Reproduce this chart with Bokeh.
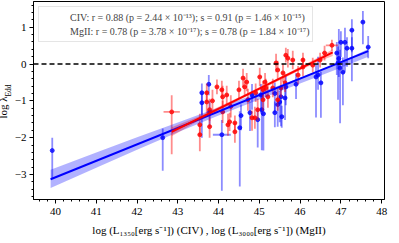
import numpy as np
from bokeh.plotting import figure
from bokeh.models import (Range1d, SingleIntervalTicker, Legend, LegendItem, Title,
                          ColumnDataSource, Span)
from bokeh.embed import file_html
from bokeh.resources import INLINE

# ---------------- data ----------------
civ_x = [39.92, 42.63, 43.59, 43.59, 43.76, 43.78, 44.08, 44.52, 44.55, 44.77,
         44.82, 44.96, 45.04, 45.06, 45.10, 45.38, 45.38, 45.45, 45.50, 45.53,
         45.55, 45.63, 45.65, 45.90, 46.39, 46.44, 46.51, 46.90, 46.93, 46.98,
         47.05, 47.00, 47.10, 47.15, 47.27, 47.27, 47.54, 47.67, 46.95]
civ_y = [-2.35, -2.00, -0.78, -1.05, -0.55, -1.30, -1.92, -1.73, -1.40, -1.32,
         -0.84, -1.51, -0.84, -1.24, -1.35, -0.80, -1.32, -1.10, -1.03, -0.89,
         -1.43, -0.92, -0.62, -0.55, -0.35, -0.30, -0.51, 0.30, 0.03, -0.11,
         -0.22, 0.59, 0.59, 0.43, 0.43, 0.92, 1.14, 0.46, 0.15]
civ_err_lo = [0.75, 0.90, 0.60, 0.95, 0.30, 0.40, 1.52, 1.60, 0.40, 0.50,
              0.40, 0.76, 0.50, 1.10, 1.00, 0.50, 0.40, 0.60, 0.55, 0.80,
              0.30, 0.60, 0.50, 0.40, 1.10, 0.40, 0.95, 0.60, 1.00, 1.50,
              0.90, 0.40, 0.80, 0.50, 0.90, 0.60, 0.60, 0.30, 0.50]
civ_err_hi = [0.35, 0.25, 0.25, 0.25, 0.25, 0.30, 0.40, 0.45, 0.30, 0.30,
              0.30, 0.30, 0.30, 0.45, 0.40, 0.30, 0.30, 0.35, 0.30, 0.30,
              0.30, 0.30, 0.30, 0.30, 0.35, 0.50, 0.30, 0.30, 0.45, 0.50,
              0.40, 0.30, 0.40, 0.30, 0.30, 0.30, 0.30, 0.30, 0.80]
civ_xerr = [0.03, 0.03, 0.05, 0.05, 0.05, 0.05, 0.22, 0.05, 0.05, 0.05,
            0.05, 0.05, 0.05, 0.05, 0.05, 0.05, 0.05, 0.05, 0.05, 0.05,
            0.05, 0.05, 0.05, 0.05, 0.05, 0.05, 0.05, 0.05, 0.05, 0.05,
            0.05, 0.05, 0.05, 0.05, 0.05, 0.05, 0.05, 0.05, 0.05]

mg_x = [42.85, 43.54, 43.54, 43.71, 43.71, 43.78, 43.78, 43.96, 44.08, 44.10,
        44.10, 44.20, 44.23, 44.27, 44.40, 44.40, 44.50, 44.60, 44.64, 44.69,
        44.72, 44.82, 44.89, 44.91, 44.96, 45.01, 45.09, 45.09, 45.14, 45.16,
        45.21, 45.33, 45.41, 45.45, 45.45, 45.53, 45.58, 45.63, 45.65, 45.70,
        45.82, 45.95, 46.07, 46.07, 46.31, 46.49, 46.78, 46.60, 43.85, 44.30]
mg_y = [-1.30, -1.92, -1.65, -0.78, -1.03, -1.24, -1.70, -0.62, -0.70, -0.89,
        -1.30, -0.84, -1.65, -1.57, -1.84, -1.60, -0.70, -0.38, -0.62, -0.49,
        -0.97, -1.46, -1.46, -0.78, -1.24, -0.35, -0.70, -0.97, -0.49, -0.65,
        -0.89, -0.65, 0.03, -0.16, -0.97, -0.65, -0.24, -0.51, 0.24, 0.16,
        0.11, -0.30, -0.08, 0.11, -0.03, 0.11, 0.51, 0.30, -1.00, -1.15]
mg_err_lo = [1.15, 0.45, 0.30, 0.25, 0.30, 0.30, 0.30, 0.20, 0.25, 0.30,
             0.30, 0.25, 0.30, 0.25, 0.30, 0.20, 0.25, 0.25, 0.25, 0.25,
             0.30, 0.35, 0.30, 0.25, 0.30, 0.25, 0.25, 0.30, 0.25, 0.25,
             0.30, 0.25, 0.25, 0.25, 0.30, 0.25, 0.25, 0.25, 0.20, 0.25,
             0.25, 0.25, 0.25, 0.20, 0.20, 0.20, 0.15, 0.20, 0.30, 0.30]
mg_err_hi = [0.45, 0.25, 0.30, 0.25, 0.30, 0.30, 0.20, 0.20, 0.25, 0.30,
             0.30, 0.25, 0.30, 0.25, 0.25, 0.20, 0.25, 0.25, 0.25, 0.25,
             0.30, 0.20, 0.30, 0.25, 0.30, 0.25, 0.25, 0.30, 0.25, 0.25,
             0.30, 0.25, 0.25, 0.25, 0.30, 0.25, 0.25, 0.25, 0.20, 0.25,
             0.25, 0.25, 0.25, 0.20, 0.20, 0.20, 0.15, 0.20, 0.30, 0.30]
mg_xerr = [0.20, 0.05, 0.05, 0.05, 0.05, 0.05, 0.05, 0.05, 0.05, 0.05,
           0.05, 0.05, 0.05, 0.05, 0.05, 0.05, 0.05, 0.05, 0.05, 0.05,
           0.05, 0.05, 0.05, 0.05, 0.05, 0.05, 0.05, 0.05, 0.05, 0.05,
           0.05, 0.05, 0.05, 0.05, 0.05, 0.05, 0.05, 0.05, 0.05, 0.05,
           0.05, 0.05, 0.05, 0.05, 0.05, 0.05, 0.15, 0.05, 0.05, 0.05]

civ_fit_x = [39.88, 47.67]
civ_fit_y = [-3.13, 0.35]
civ_band_x = [39.88, 41.0, 42.0, 43.0, 44.0, 45.0, 46.0, 47.0, 47.67]
civ_band_lo = [-3.37, -2.82, -2.33, -1.85, -1.40, -0.96, -0.53, -0.10, 0.20]
civ_band_hi = [-2.87, -2.40, -1.99, -1.59, -1.18, -0.78, -0.37, 0.06, 0.41]

mg_fit_x = [42.85, 46.80]
mg_fit_y = [-1.84, 0.32]
mg_band_x = [42.85, 43.5, 44.0, 44.5, 45.0, 45.5, 46.0, 46.5, 46.80]
mg_band_lo = [-1.96, -1.55, -1.26, -0.98, -0.71, -0.44, -0.17, 0.09, 0.22]
mg_band_hi = [-1.72, -1.43, -1.16, -0.90, -0.63, -0.36, -0.07, 0.21, 0.40]

civ_label = "CIV: r = 0.88 (p = 2.44 × 10⁻¹³); s = 0.91 (p = 1.46 × 10⁻¹⁵)"
mg_label = "MgII: r = 0.78 (p = 3.78 × 10⁻¹⁷); s = 0.78 (p = 1.84 × 10⁻¹⁷)"
x_label = "log (L₁₃₅₀[erg s⁻¹]) (CIV) , log (L₃₀₀₀[erg s⁻¹]) (MgII)"
y_label_main = "log λ"
y_label_sub = "Edd"

FONT = "Liberation Serif"

# ---------------- figure ----------------
p = figure(frame_width=351, frame_height=198, output_backend="svg",
           toolbar_location=None, x_range=Range1d(39.46, 48.07),
           y_range=Range1d(-3.68, 1.70), min_border_left=31, min_border_right=6,
           min_border_top=1, min_border_bottom=0)
p.background_fill_color = "white"
p.grid.visible = False
p.outline_line_color = "black"
p.outline_line_width = 1
p.outline_line_alpha = 1

for ax in (p.xaxis[0], p.yaxis[0]):
    ax.ticker = SingleIntervalTicker(interval=1, num_minor_ticks=5)
    ax.axis_line_color = "black"
    ax.major_tick_line_color = "black"
    ax.minor_tick_line_color = "black"
    ax.major_tick_out = 4
    ax.major_tick_in = 0
    ax.minor_tick_out = 2
    ax.minor_tick_in = 0
    ax.major_label_text_font = FONT
    ax.major_label_text_font_size = "11px"
    ax.major_label_text_color = "black"
    ax.major_label_standoff = 3

p.xaxis[0].major_label_standoff = 4
p.yaxis[0].major_label_overrides = {-1: "−1", -2: "−2", -3: "−3"}
p.xaxis[0].axis_label = x_label
p.xaxis[0].axis_label_text_font = FONT
p.xaxis[0].axis_label_text_font_size = "11px"
p.xaxis[0].axis_label_text_font_style = "normal"
p.xaxis[0].axis_label_text_color = "black"
p.xaxis[0].axis_label_standoff = 6

# y label: subscript part nearest the axis, main part outside
p.add_layout(Title(text=y_label_sub, align="left", offset=103, standoff=-4,
                   vertical_align="middle",
                   text_font=FONT, text_font_size="7.5px", text_font_style="normal",
                   text_color="black"), "left")
p.add_layout(Title(text=y_label_main, align="left", offset=81, standoff=-10,
                   vertical_align="middle",
                   text_font=FONT, text_font_size="11px", text_font_style="normal",
                   text_color="black"), "left")

# zero line
p.add_layout(Span(location=0, dimension="width", line_color="black",
                  line_dash="5 3", line_width=1.5))


def draw_series(xs, ys, lo, hi, xe, color):
    xs = np.array(xs); ys = np.array(ys)
    lo = np.array(lo); hi = np.array(hi); xe = np.array(xe)
    src = ColumnDataSource(dict(x=xs, y=ys, y0=ys - lo, y1=ys + hi,
                                x0=xs - xe, x1=xs + xe))
    p.segment(x0="x", y0="y0", x1="x", y1="y1", source=src, line_color=color,
              line_alpha=0.45, line_width=1.8)
    p.segment(x0="x0", y0="y", x1="x1", y1="y", source=src, line_color=color,
              line_alpha=0.45, line_width=1.8)
    p.scatter(x="x", y="y", source=src, size=4, color=color, alpha=0.7)


draw_series(civ_x, civ_y, civ_err_lo, civ_err_hi, civ_xerr, "blue")
draw_series(mg_x, mg_y, mg_err_lo, mg_err_hi, mg_xerr, "red")

p.varea(x=civ_band_x, y1=civ_band_lo, y2=civ_band_hi, fill_color="blue", fill_alpha=0.3)
p.line(civ_fit_x, civ_fit_y, line_color="blue", line_width=2)
p.varea(x=mg_band_x, y1=mg_band_lo, y2=mg_band_hi, fill_color="red", fill_alpha=0.3)
p.line(mg_fit_x, mg_fit_y, line_color="red", line_width=2)

# legend proxies
empty = dict(x=[], y=[])
c1 = p.scatter(x="x", y="y", source=ColumnDataSource(empty), marker="cross", size=13,
               line_color="blue", line_alpha=0.6, line_width=2)
d1 = p.scatter(x="x", y="y", source=ColumnDataSource(empty), size=4, color="blue")
c2 = p.scatter(x="x", y="y", source=ColumnDataSource(empty), marker="cross", size=13,
               line_color="red", line_alpha=0.6, line_width=2)
d2 = p.scatter(x="x", y="y", source=ColumnDataSource(empty), size=4, color="red")

legend = Legend(items=[LegendItem(label=civ_label, renderers=[c1, d1]),
                       LegendItem(label=mg_label, renderers=[c2, d2])],
                location="top_left", margin=5, padding=3, spacing=0,
                label_text_font=FONT, label_text_font_size="10px",
                label_height=14, glyph_height=14, glyph_width=22,
                border_line_color="#cccccc", background_fill_alpha=0.8,
                label_standoff=6)
p.add_layout(legend)

open("out.html", "w").write(file_html(p, INLINE))
